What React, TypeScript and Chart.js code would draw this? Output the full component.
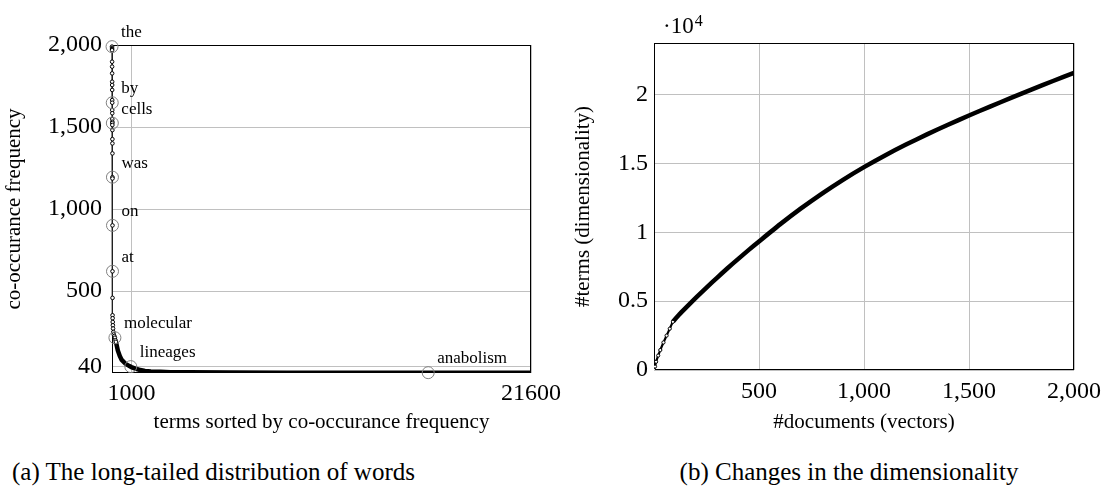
import React, { useEffect, useRef } from "react";
import { Chart, registerables } from "chart.js";

Chart.register(...registerables);

const FONT = "'Liberation Serif', 'Times New Roman', serif";

// ---------- (a) long-tailed distribution ----------
const headRanks = [1, 2, 3, 4, 5, 6, 7, 8, 9, 10, 11, 12, 13, 14, 15, 16, 17, 18, 19, 20, 21, 22, 23, 24, 25, 26, 27, 28, 32, 38, 45, 55, 70, 90, 120, 150, 180, 200];
const headFreqs = [1990, 1982, 1975, 1968, 1898, 1868, 1827, 1776, 1756, 1726, 1664, 1648, 1603, 1584, 1548, 1532, 1524, 1512, 1481, 1426, 1400, 1339, 1194, 1186, 900, 620, 458, 352, 334, 311, 291, 271, 250, 235, 225, 215, 200, 190];
const tailRanks = [200, 250, 300, 400, 500, 700, 900, 1000, 1200, 1400, 1700, 2000, 2500, 3000, 4000, 6000, 9000, 13000, 16300, 21600];
const tailFreqs = [190, 165, 138, 104, 80, 56, 42, 36, 27, 20, 13, 9, 7, 5, 4, 3, 2, 2, 2, 1];
const wordLabels = ["the", "by", "cells", "was", "on", "at", "molecular", "lineages", "anabolism"];
const wordRanks = [1, 12, 17, 23, 25, 26, 150, 970, 16300];
const wordFreqs = [1990, 1648, 1524, 1194, 900, 620, 215, 39, 2];
const leftXTicks = [1000, 21600];
const leftYTicks = [40, 500, 1000, 1500, 2000];

// ---------- (b) dimensionality ----------
const docCounts = [0, 5, 10, 20, 30, 45, 60, 75, 90, 120, 150, 200, 250, 300, 350, 400, 450, 500, 600, 700, 800, 900, 1000, 1100, 1200, 1300, 1400, 1500, 1600, 1700, 1800, 1900, 2000];
const termCounts = [0, 250, 600, 1050, 1450, 2000, 2500, 3000, 3500, 4030, 4500, 5260, 5990, 6700, 7390, 8060, 8710, 9340, 10580, 11740, 12820, 13820, 14740, 15590, 16380, 17120, 17820, 18490, 19140, 19770, 20390, 21000, 21600];
const rightXTicks = [500, 1000, 1500, 2000];
const rightYTicks = [0, 5000, 10000, 15000, 20000];

const GRID = "#c0c0c0";

const framePlugin = {
  id: "frame",
  beforeDatasetsDraw(chart: any) {
    const { ctx, chartArea } = chart;
    const { left, top, right, bottom } = chartArea;
    ctx.save();
    ctx.strokeStyle = "#000";
    ctx.lineWidth = 1;
    ctx.strokeRect(left + 0.5, top + 0.5, right - left - 1, bottom - top - 1);
    ctx.restore();
  },
};

const wordPlugin = {
  id: "words",
  afterDatasetsDraw(chart: any) {
    const { ctx } = chart;
    const xs = chart.scales.x;
    const ys = chart.scales.y;
    ctx.save();
    ctx.font = `17px ${FONT}`;
    ctx.fillStyle = "#000";
    ctx.textAlign = "left";
    ctx.textBaseline = "middle";
    wordLabels.forEach((w, i) => {
      const px = xs.getPixelForValue(wordRanks[i]);
      const py = ys.getPixelForValue(wordFreqs[i]);
      ctx.fillText(w, px + 9, py - 14);
    });
    ctx.restore();
  },
};

const expPlugin = {
  id: "exp",
  afterDraw(chart: any) {
    const { ctx, chartArea } = chart;
    ctx.save();
    ctx.fillStyle = "#000";
    ctx.textBaseline = "alphabetic";
    ctx.textAlign = "left";
    ctx.font = `23px ${FONT}`;
    const x0 = chartArea.left + 9;
    ctx.fillText("·10", x0, 33);
    const w = ctx.measureText("·10").width;
    ctx.font = `16px ${FONT}`;
    ctx.fillText("4", x0 + w + 1, 26);
    ctx.restore();
  },
};

function fixAxis(size: number, horizontal: boolean) {
  return (s: any) => {
    if (horizontal) s.height = size;
    else s.width = size;
    s.paddingLeft = 0;
    s.paddingRight = 0;
    s.paddingTop = 0;
    s.paddingBottom = 0;
  };
}

const tickFont = { family: FONT, size: 24 };
const titleFont = { family: FONT, size: 21 };

function LeftChart() {
  const ref = useRef<HTMLCanvasElement>(null);
  useEffect(() => {
    const head = headRanks.map((r, i) => ({ x: r, y: headFreqs[i] }));
    const tail = tailRanks.map((r, i) => ({ x: r, y: tailFreqs[i] }));
    const words = wordRanks.map((r, i) => ({ x: r, y: wordFreqs[i] }));
    const chart = new Chart(ref.current!, {
      type: "scatter",
      data: {
        datasets: [
          { data: tail, showLine: true, borderColor: "#000", borderWidth: 4.5, pointRadius: 0, order: 3 } as any,
          {
            data: head, showLine: true, borderColor: "#222", borderWidth: 1.3, pointRadius: 1.8,
            pointBorderWidth: 1, pointBackgroundColor: "#fff", pointBorderColor: "#000", clip: false, order: 2,
          } as any,
          {
            data: words, showLine: false, pointRadius: 6, pointBorderWidth: 1,
            pointBorderColor: "#808080", pointBackgroundColor: "rgba(0,0,0,0)", clip: false, order: 1,
          } as any,
        ],
      },
      options: {
        animation: false,
        responsive: false,
        devicePixelRatio: 1,
        layout: { padding: { top: 45, left: 0, right: 39, bottom: 0 } },
        plugins: { legend: { display: false }, tooltip: { enabled: false } },
        scales: {
          x: {
            type: "linear", min: 0, max: 21600,
            afterBuildTicks: (s: any) => { s.ticks = leftXTicks.map((v) => ({ value: v })); },
            afterFit: fixAxis(77, true),
            ticks: { font: tickFont, color: "#000", padding: 6, maxRotation: 0, autoSkip: false, callback: (v: any) => String(v) },
            grid: { color: GRID, drawTicks: false },
            border: { display: false },
            title: { display: true, text: "terms sorted by co-occurance frequency", font: titleFont, color: "#000", padding: { top: 0, bottom: 15 } },
          },
          y: {
            type: "linear", min: 0, max: 2000,
            afterBuildTicks: (s: any) => { s.ticks = leftYTicks.map((v) => ({ value: v })); },
            afterFit: fixAxis(112, false),
            ticks: { font: tickFont, color: "#000", padding: 10, autoSkip: false, callback: (v: any) => Number(v).toLocaleString("en-US") },
            grid: { color: GRID, drawTicks: false },
            border: { display: false },
            title: { display: true, text: "co-occurance frequency", font: titleFont, color: "#000", padding: { top: 2, bottom: 0 } },
          },
        },
      } as any,
      plugins: [framePlugin, wordPlugin],
    });
    return () => chart.destroy();
  }, []);
  return <canvas ref={ref} width={570} height={450} style={{ position: "absolute", left: 0, top: 0, width: 570, height: 450 }} />;
}

function RightChart() {
  const ref = useRef<HTMLCanvasElement>(null);
  useEffect(() => {
    const pts = docCounts.map((d, i) => ({ x: d, y: termCounts[i] }));
    const chart = new Chart(ref.current!, {
      type: "scatter",
      data: {
        datasets: [
          {
            data: pts, showLine: true, borderColor: "#000", borderWidth: 4.5, tension: 0.2,
            pointRadius: (c: any) => (c.raw && c.raw.x < 95 ? 1.6 : 0),
            pointBorderWidth: 1, pointBorderColor: "#000", pointBackgroundColor: "#fff",
            segment: { borderWidth: (c: any) => (c.p0.parsed.x < 90 ? 2.2 : 4.5) },
          } as any,
        ],
      },
      options: {
        animation: false,
        responsive: false,
        devicePixelRatio: 1,
        layout: { padding: { top: 43, left: 0, right: 29, bottom: 0 } },
        plugins: { legend: { display: false }, tooltip: { enabled: false } },
        scales: {
          x: {
            type: "linear", min: 0, max: 2000,
            afterBuildTicks: (s: any) => { s.ticks = rightXTicks.map((v) => ({ value: v })); },
            afterFit: fixAxis(80, true),
            ticks: { font: tickFont, color: "#000", padding: 7, maxRotation: 0, autoSkip: false, callback: (v: any) => Number(v).toLocaleString("en-US") },
            grid: { color: GRID, drawTicks: false },
            border: { display: false },
            title: { display: true, text: "#documents (vectors)", font: titleFont, color: "#000", padding: { top: 0, bottom: 15 } },
          },
          y: {
            type: "linear", min: 0, max: 23760,
            afterBuildTicks: (s: any) => { s.ticks = rightYTicks.map((v) => ({ value: v })); },
            afterFit: fixAxis(84, false),
            ticks: { font: tickFont, color: "#000", padding: 6, autoSkip: false, callback: (v: any) => String(Number(v) / 10000) },
            grid: { color: GRID, drawTicks: false },
            border: { display: false },
            title: { display: true, text: "#terms (dimensionality)", font: titleFont, color: "#000", padding: { top: 1, bottom: 0 } },
          },
        },
      } as any,
      plugins: [framePlugin, expPlugin],
    });
    return () => chart.destroy();
  }, []);
  return <canvas ref={ref} width={533} height={450} style={{ position: "absolute", left: 570, top: 0, width: 533, height: 450 }} />;
}

const captionStyle: React.CSSProperties = {
  position: "absolute",
  top: 459,
  fontFamily: FONT,
  fontSize: 25,
  lineHeight: "25px",
  color: "#000",
  whiteSpace: "nowrap",
  textAlign: "center",
};

export default function App() {
  return (
    <div style={{ position: "fixed", left: 0, top: 0, width: 1103, height: 491, background: "#fff", overflow: "hidden" }}>
      <LeftChart />
      <RightChart />
      <div style={{ ...captionStyle, left: 0, width: 427 }}>(a) The long-tailed distribution of words</div>
      <div style={{ ...captionStyle, left: 649, width: 400 }}>(b) Changes in the dimensionality</div>
    </div>
  );
}
